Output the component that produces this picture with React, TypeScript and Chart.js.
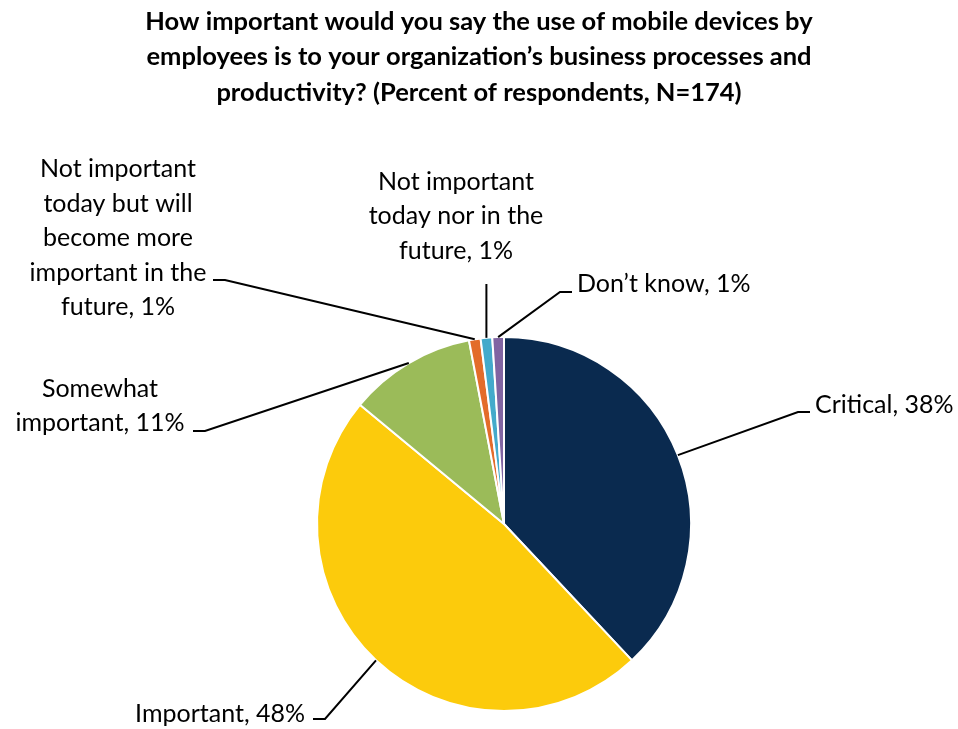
import React, { useEffect, useRef } from "react";
import { Chart, registerables } from "chart.js";

Chart.register(...registerables);

const titleLines = [
  "How important would you say the use of mobile devices by",
  "employees is to your organization\u2019s business processes and",
  "productivity? (Percent of respondents, N=174)",
];

const categories = [
  "Critical",
  "Important",
  "Somewhat important",
  "Not important today but will become more important in the future",
  "Not important today nor in the future",
  "Don\u2019t know",
];

const values = [38, 48, 11, 1, 1, 1];

const colors = ["#0A2A4F", "#FCCB0C", "#9BBB59", "#E36C2A", "#44AACB", "#8064A2"];

const labelLines = [
  ["Critical, 38%"],
  ["Important, 48%"],
  ["Somewhat", "important, 11%"],
  ["Not important", "today but will", "become more", "important in the", "future, 1%"],
  ["Not important", "today nor in the", "future, 1%"],
  ["Don\u2019t know, 1%"],
];

// label layout relative to pie centre: text block centre, alignment, leader elbow, tail length
const labelLayout = [
  { tx: 311, ty: -119, align: "left", ex: 294, ey: -112, tail: 12 },
  { tx: -199, ty: 190, align: "right", ex: -179, ey: 195, tail: -12 },
  { tx: -404, ty: -118, align: "center", ex: -299, ey: -93, tail: -12 },
  { tx: -386, ty: -286, align: "center", ex: -279, ey: -244, tail: -12 },
  { tx: -48, ty: -308, align: "center", ex: null, ey: -240, tail: 0 },
  { tx: 73, ty: -240, align: "left", ex: 56, ey: -232, tail: 12 },
];

const FONT = "Lato, 'Open Sans', sans-serif";

const labelPlugin = {
  id: "pieLabels",
  afterDraw(chart: any) {
    const ctx = chart.ctx;
    ctx.save();
    // title
    ctx.fillStyle = "#000";
    ctx.font = `bold 25.5px ${FONT}`;
    ctx.textAlign = "center";
    ctx.textBaseline = "middle";
    const titleY = [22, 57, 93];
    titleLines.forEach((t, i) => ctx.fillText(t, 479, titleY[i]));

    const meta = chart.getDatasetMeta(0);
    meta.data.forEach((arc: any, i: number) => {
      const p = arc.getProps(["x", "y", "startAngle", "endAngle", "outerRadius"], true);
      const mid = (p.startAngle + p.endAngle) / 2;
      const sx = p.x + Math.cos(mid) * p.outerRadius;
      const sy = p.y + Math.sin(mid) * p.outerRadius;
      const L = labelLayout[i];
      const ex = L.ex === null ? sx : p.x + L.ex;
      const ey = p.y + L.ey;
      ctx.strokeStyle = "#000";
      ctx.lineWidth = 2;
      ctx.beginPath();
      ctx.moveTo(sx, sy);
      ctx.lineTo(ex, ey);
      if (L.tail) ctx.lineTo(ex + L.tail, ey);
      ctx.stroke();

      ctx.font = `25px ${FONT}`;
      ctx.fillStyle = "#000";
      ctx.textAlign = L.align;
      ctx.textBaseline = "middle";
      const lines = labelLines[i];
      const lh = 34.5;
      const top = p.y + L.ty - ((lines.length - 1) * lh) / 2;
      lines.forEach((t, k) => ctx.fillText(t, p.x + L.tx, top + k * lh));
    });
    ctx.restore();
  },
};

export default function App() {
  const ref = useRef<HTMLCanvasElement>(null);
  useEffect(() => {
    if (!ref.current) return;
    const chart = new Chart(ref.current, {
      type: "pie",
      data: {
        labels: categories,
        datasets: [
          {
            data: values,
            backgroundColor: colors,
            borderColor: "#ffffff",
            borderWidth: 2,
            hoverOffset: 0,
          },
        ],
      },
      options: {
        responsive: false,
        animation: false,
        events: [],
        layout: { padding: { left: 316, right: 266, top: 336, bottom: 17 } },
        plugins: {
          legend: { display: false },
          tooltip: { enabled: false },
          title: { display: false },
        },
      },
      plugins: [labelPlugin],
    });
    return () => chart.destroy();
  }, []);
  return (
    <div style={{ position: "fixed", left: 0, top: 0, width: 958, height: 729, background: "#fff" }}>
      <canvas ref={ref} width={958} height={729} />
    </div>
  );
}
